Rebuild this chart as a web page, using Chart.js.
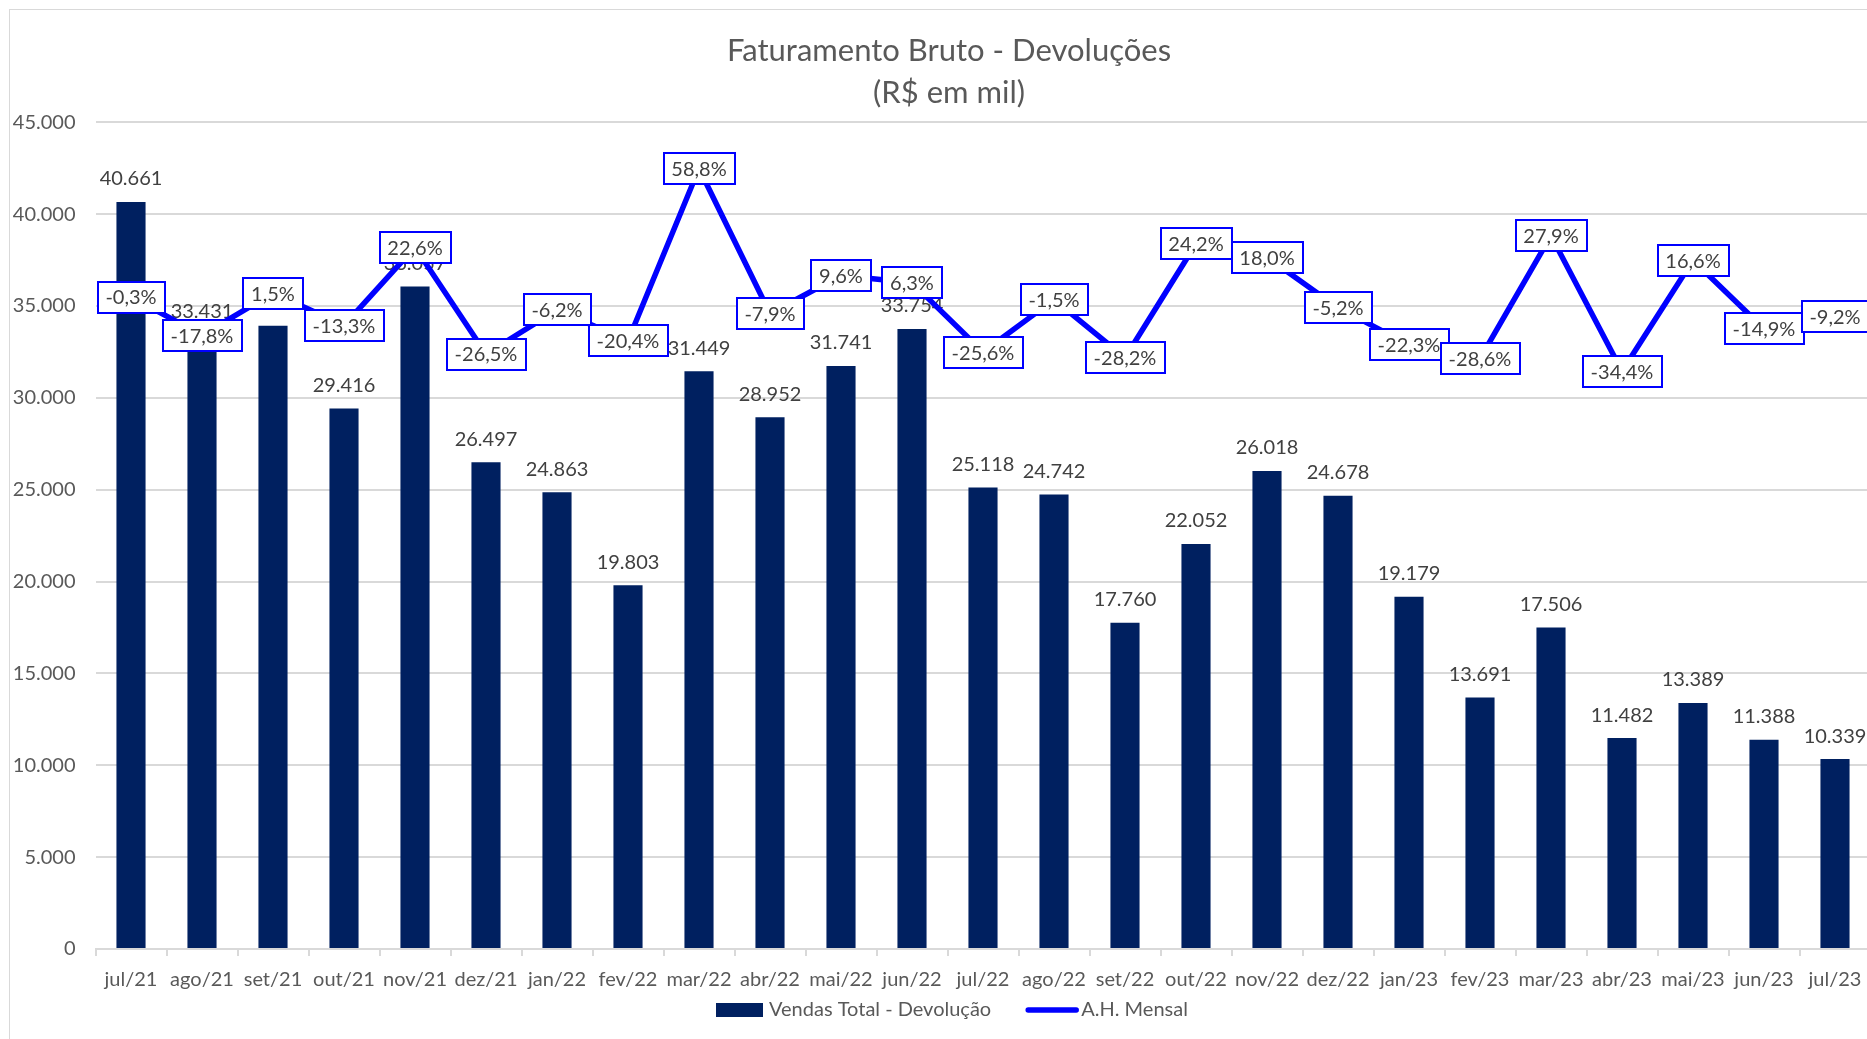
<!DOCTYPE html>
<html>
<head>
<meta charset="utf-8">
<script src="https://cdn.jsdelivr.net/npm/chart.js@4/dist/chart.umd.min.js"></script>
<style>
  html, body { margin: 0; padding: 0; background: #ffffff; overflow: hidden; }
  #frame { position: absolute; left: 9px; top: 9px; width: 1950px; height: 1100px; border: 1px solid #d9d9d9; }
  #c { position: absolute; left: 10px; top: 10px; }
</style>
</head>
<body>
<div id="frame"></div>
<canvas id="c" width="1878" height="1029" style="width:1878px;height:1029px"></canvas>
<script>
const categories = ['jul/21','ago/21','set/21','out/21','nov/21','dez/21','jan/22','fev/22','mar/22','abr/22','mai/22','jun/22','jul/22','ago/22','set/22','out/22','nov/22','dez/22','jan/23','fev/23','mar/23','abr/23','mai/23','jun/23','jul/23'];
const salesValues = [40661, 33431, 33932, 29416, 36057, 26497, 24863, 19803, 31449, 28952, 31741, 33754, 25118, 24742, 17760, 22052, 26018, 24678, 19179, 13691, 17506, 11482, 13389, 11388, 10339];
const monthlyChange = [-0.3, -17.8, 1.5, -13.3, 22.6, -26.5, -6.2, -20.4, 58.8, -7.9, 9.6, 6.3, -25.6, -1.5, -28.2, 24.2, 18.0, -5.2, -22.3, -28.6, 27.9, -34.4, 16.6, -14.9, -9.2];
const seriesNames = ['Vendas Total - Devolução', 'A.H. Mensal'];
const titleLines = ['Faturamento Bruto - Devoluções', '(R$ em mil)'];

const FONT = 'Lato, "Open Sans", sans-serif';
const BAR_COLOR = '#002060';
const LINE_COLOR = '#0000FF';
const fmtThousands = n => Math.round(n).toString().replace(/\B(?=(\d{3})+(?!\d))/g, '.');
const fmtPct = v => v.toFixed(1).replace('.', ',') + '%';

Chart.defaults.font.family = FONT;
Chart.defaults.color = '#595959';

const labelPlugin = {
  id: 'customLabels',
  afterDatasetDraw(chart, args) {
    if (args.index !== 0) return;
    const ctx = chart.ctx;
    const meta = chart.getDatasetMeta(0);
    ctx.save();
    ctx.font = '20px ' + FONT;
    ctx.fillStyle = '#404040';
    ctx.textAlign = 'center';
    ctx.textBaseline = 'middle';
    meta.data.forEach((bar, i) => {
      ctx.fillText(fmtThousands(salesValues[i]), bar.x, bar.y - 23);
    });
    ctx.restore();
  },
  afterDatasetsDraw(chart) {
    const ctx = chart.ctx;
    const meta = chart.getDatasetMeta(1);
    ctx.save();
    ctx.font = '20px ' + FONT;
    ctx.textAlign = 'center';
    ctx.textBaseline = 'middle';
    meta.data.forEach((pt, i) => {
      const txt = fmtPct(monthlyChange[i]);
      const w = Math.round(ctx.measureText(txt).width + 16);
      const h = 31;
      const x = Math.round(pt.x - w / 2);
      const y = Math.round(pt.y - h / 2);
      ctx.fillStyle = '#ffffff';
      ctx.fillRect(x, y, w, h);
      ctx.strokeStyle = LINE_COLOR;
      ctx.lineWidth = 2;
      ctx.strokeRect(x, y, w, h);
      ctx.fillStyle = '#404040';
      ctx.fillText(txt, pt.x, pt.y + 1);
    });
    ctx.restore();
  },
  afterDraw(chart) {
    const ctx = chart.ctx;
    ctx.save();
    ctx.font = '20px ' + FONT;
    ctx.textBaseline = 'middle';
    ctx.textAlign = 'left';
    const w1 = ctx.measureText(seriesNames[0]).width;
    const w2 = ctx.measureText(seriesNames[1]).width;
    const sw1 = 47, gap1 = 6, sep = 35, sw2 = 52, gap2 = 3;
    const total = sw1 + gap1 + w1 + sep + sw2 + gap2 + w2;
    const cy = 1000;
    let x = Math.round(942 - total / 2);
    ctx.fillStyle = BAR_COLOR;
    ctx.fillRect(x, cy - 7, sw1, 14);
    x += sw1 + gap1;
    ctx.fillStyle = '#595959';
    ctx.fillText(seriesNames[0], x, cy);
    x += w1 + sep;
    ctx.strokeStyle = LINE_COLOR;
    ctx.lineWidth = 5.5;
    ctx.lineCap = 'round';
    ctx.beginPath();
    ctx.moveTo(x + 2, cy);
    ctx.lineTo(x + sw2 - 2, cy);
    ctx.stroke();
    x += sw2 + gap2;
    ctx.fillText(seriesNames[1], x, cy);
    ctx.restore();
  }
};

new Chart(document.getElementById('c'), {
  type: 'bar',
  data: {
    labels: categories,
    datasets: [
      {
        type: 'bar',
        label: seriesNames[0],
        data: salesValues,
        backgroundColor: BAR_COLOR,
        borderWidth: 0,
        categoryPercentage: 1,
        barPercentage: 0.41,
        yAxisID: 'y',
        order: 1
      },
      {
        type: 'line',
        label: seriesNames[1],
        data: monthlyChange,
        borderColor: LINE_COLOR,
        backgroundColor: LINE_COLOR,
        borderWidth: 5.5,
        borderJoinStyle: 'round',
        borderCapStyle: 'round',
        pointRadius: 0,
        pointHoverRadius: 0,
        tension: 0,
        yAxisID: 'y1',
        order: 0
      }
    ]
  },
  options: {
    responsive: false,
    maintainAspectRatio: false,
    animation: false,
    devicePixelRatio: 1,
    layout: { padding: { left: 0, right: 0, top: 0, bottom: 35 } },
    plugins: {
      tooltip: { enabled: false },
      legend: { display: false },
      title: {
        display: true,
        text: titleLines,
        color: '#595959',
        font: { size: 31, weight: 'normal', lineHeight: 1.36 },
        padding: { top: 20, bottom: 8 }
      }
    },
    scales: {
      x: {
        offset: true,
        grid: { display: true, drawOnChartArea: false, drawTicks: true, tickLength: 7, color: '#d9d9d9', lineWidth: 2, offset: true },
        border: { display: true, color: '#d9d9d9', width: 2 },
        ticks: { color: '#595959', font: { size: 20 }, maxRotation: 0, minRotation: 0, autoSkip: false, padding: 12 }
      },
      y: {
        position: 'left',
        min: 0,
        max: 45000,
        ticks: { stepSize: 5000, color: '#595959', font: { size: 20 }, padding: 20, callback: v => fmtThousands(v) },
        grid: { color: '#d9d9d9', lineWidth: 2, drawTicks: false },
        border: { display: false },
        afterFit(scale) { scale.width = 85.5; }
      },
      y1: {
        position: 'right',
        display: true,
        min: -300,
        max: 80,
        ticks: { display: false },
        grid: { display: false, drawOnChartArea: false },
        border: { display: false },
        afterFit(scale) { scale.width = 17.5; }
      }
    }
  },
  plugins: [labelPlugin]
});
</script>
</body>
</html>
